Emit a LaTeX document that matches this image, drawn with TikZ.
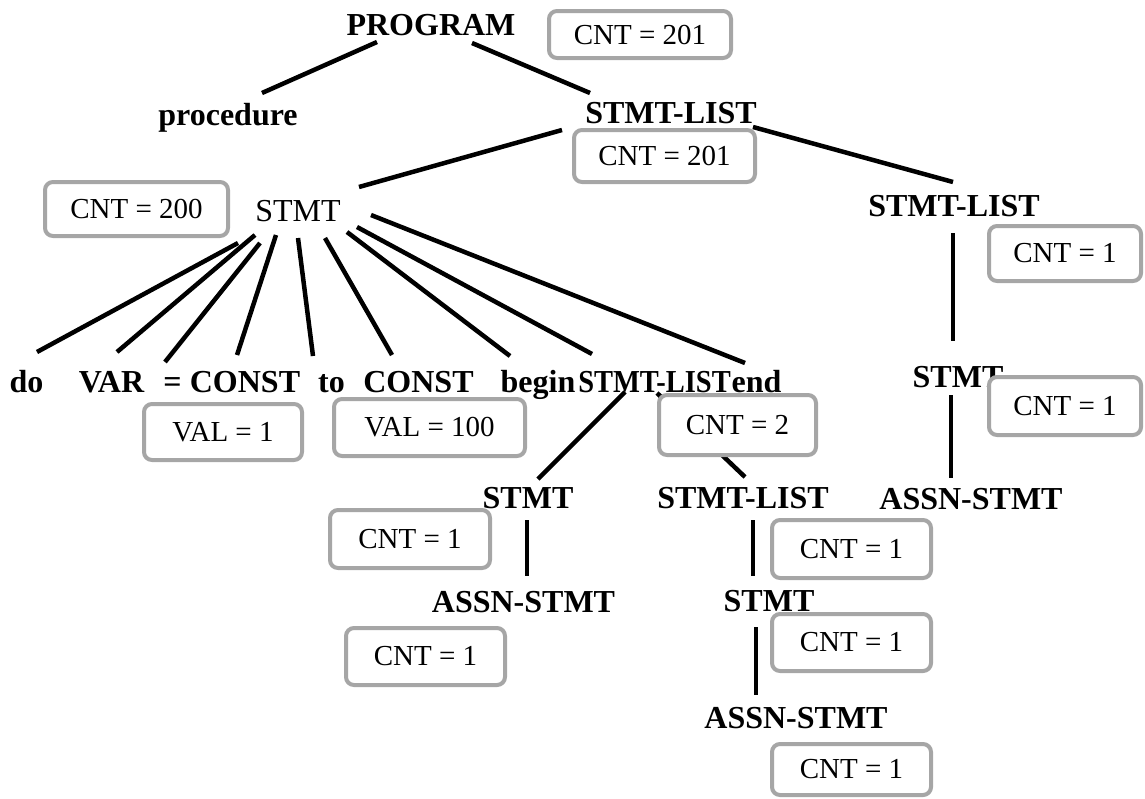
\documentclass[tikz,border=0pt]{standalone}
\usepackage{graphicx}
\usepackage{fontspec}
\setmainfont{Liberation Serif}
\tikzset{
  lab/.style={font=\fontsize{32}{36}\selectfont\bfseries, inner sep=0pt, anchor=base},
  labr/.style={font=\fontsize{32}{36}\selectfont, inner sep=0pt, anchor=base},
  cbox/.style={draw=gray!70, line width=4pt, rounded corners=8pt, fill=white,
    font=\fontsize{29}{32}\selectfont, inner sep=0pt},
  edge/.style={draw=black, line width=4.5pt}
}
\begin{document}
\begin{tikzpicture}[x=1pt,y=-1pt]
\useasboundingbox (0,0) rectangle (1145,798);
% text nodes
\node[lab] (prog) at (431,35) {PROGRAM};
\node[lab] (proc) at (228,125) {procedure};
\node[lab] (sl1) at (671,123) {STMT-LIST};
\node[labr] (stmt) at (298,221) {STMT};
\node[lab] (slR) at (954,216) {STMT-LIST};
\node[lab] (stmtR) at (958,387) {STMT};
\node[lab] (assnR) at (971,509) {ASSN-STMT};
\node[lab] (dok) at (26.5,392) {do};
\node[lab] (var) at (111.5,392) {VAR};
\node[lab] (eq) at (172.5,392) {=};
\node[lab] (c1) at (245,392) {CONST};
\node[lab] (tok) at (331.5,392) {to};
\node[lab] (c2) at (418.5,392) {CONST};
\node[lab] (begk) at (538,392) {begin};
\node[lab] (slm) at (654.5,392) {\scalebox{0.89}[1]{STMT-LIST}};
\node[lab] (endk) at (756.5,392) {end};
\node[lab] (stmtL) at (528,508) {STMT};
\node[lab] (slL) at (743,508) {STMT-LIST};
\node[lab] (assnL) at (523.5,612) {ASSN-STMT};
\node[lab] (stmtLR) at (769,611) {STMT};
\node[lab] (assnLL) at (796,728) {ASSN-STMT};
% connectors
\draw[edge] ([shift={(-54,7)}]prog.base) -- ([shift={(34,-32)}]proc.base);
\draw[edge] ([shift={(41,8)}]prog.base) -- ([shift={(-81,-30)}]sl1.base);
\draw[edge] ([shift={(-109,7)}]sl1.base) -- ([shift={(61,-34)}]stmt.base);
\draw[edge] ([shift={(82,4)}]sl1.base) -- ([shift={(-1,-34)}]slR.base);
\draw[edge] ([shift={(-1,17)}]slR.base) -- ([shift={(-5,-46)}]stmtR.base);
\draw[edge] ([shift={(-7,8)}]stmtR.base) -- ([shift={(-20,-31)}]assnR.base);
\draw[edge] ([shift={(-60,22)}]stmt.base) -- ([shift={(10.5,-40)}]dok.base);
\draw[edge] ([shift={(-43,14)}]stmt.base) -- ([shift={(5.5,-40)}]var.base);
\draw[edge] ([shift={(-38,22)}]stmt.base) -- ([shift={(-7.5,-30)}]eq.base);
\draw[edge] ([shift={(-22,14)}]stmt.base) -- ([shift={(-8,-37)}]c1.base);
\draw[edge] ([shift={(0,17)}]stmt.base) -- ([shift={(-18.5,-36)}]tok.base);
\draw[edge] ([shift={(27,17)}]stmt.base) -- ([shift={(-26.5,-37)}]c2.base);
\draw[edge] ([shift={(49,11)}]stmt.base) -- ([shift={(-28,-36)}]begk.base);
\draw[edge] ([shift={(59,6)}]stmt.base) -- ([shift={(-62.5,-38)}]slm.base);
\draw[edge] ([shift={(73,-6)}]stmt.base) -- ([shift={(-11.5,-29)}]endk.base);
\draw[edge] ([shift={(-29.5,0)}]slm.base) -- ([shift={(10,-29)}]stmtL.base);
\draw[edge] ([shift={(2.5,1)}]slm.base) -- ([shift={(2,-31)}]slL.base);
\draw[edge] ([shift={(-1,12)}]stmtL.base) -- ([shift={(3.5,-36)}]assnL.base);
\draw[edge] ([shift={(10,12)}]slL.base) -- ([shift={(-16,-35)}]stmtLR.base);
\draw[edge] ([shift={(-13,16)}]stmtLR.base) -- ([shift={(-40,-33)}]assnLL.base);
% count boxes
\node[cbox, minimum width=182pt, minimum height=47pt] (bProg) at (640,34.5) {CNT = 201};
\node[cbox, minimum width=181pt, minimum height=52pt] (bSl1) at (664.5,156) {CNT = 201};
\node[cbox, minimum width=183pt, minimum height=54pt] (bStmt) at (136.5,209) {CNT = 200};
\node[cbox, minimum width=152pt, minimum height=55pt] (bSlR) at (1065,253.5) {CNT = 1};
\node[cbox, minimum width=152pt, minimum height=58pt] (bStmtR) at (1065,406) {CNT = 1};
\node[cbox, minimum width=158pt, minimum height=56pt] (bVal1) at (223,432) {VAL = 1};
\node[cbox, minimum width=191pt, minimum height=57pt] (bVal100) at (429.5,427.5) {VAL = 100};
\node[cbox, minimum width=157pt, minimum height=60pt] (bCnt2) at (737.5,425) {CNT = 2};
\node[cbox, minimum width=160pt, minimum height=58pt] (bStmtL) at (410,539) {CNT = 1};
\node[cbox, minimum width=159pt, minimum height=58pt] (bSlL) at (851.5,549) {CNT = 1};
\node[cbox, minimum width=159pt, minimum height=57pt] (bAssnL) at (425.5,656.5) {CNT = 1};
\node[cbox, minimum width=159pt, minimum height=57pt] (bStmtLR) at (851.5,642.5) {CNT = 1};
\node[cbox, minimum width=159pt, minimum height=51pt] (bAssnLL) at (851.5,769.5) {CNT = 1};
\end{tikzpicture}
\end{document}
